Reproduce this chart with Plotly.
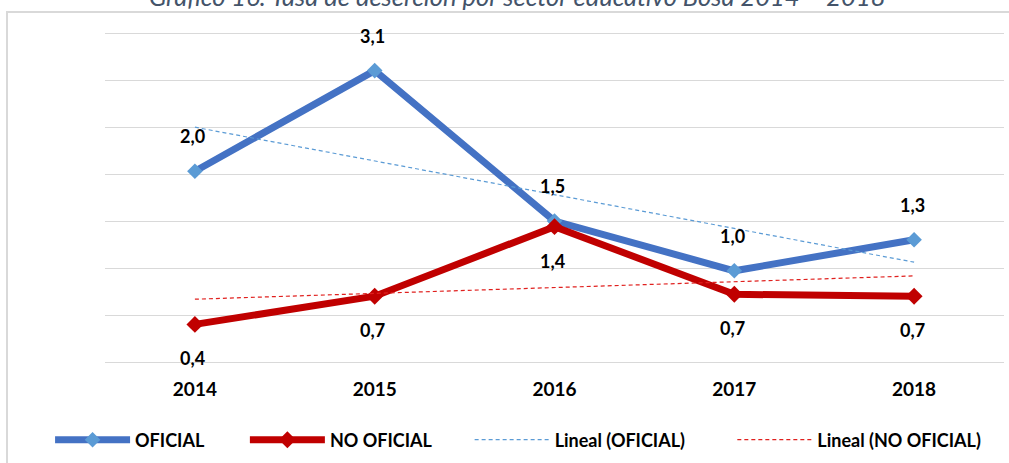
import numpy as np
import plotly.graph_objects as go

years = ["2014", "2015", "2016", "2017", "2018"]
oficial = [2.03, 3.10, 1.50, 0.97, 1.30]
no_oficial = [0.40, 0.70, 1.44, 0.72, 0.70]
oficial_labels = ["2,0", "3,1", "1,5", "1,0", "1,3"]
no_oficial_labels = ["0,4", "0,7", "1,4", "0,7", "0,7"]

title_text = "Gráfico 16. Tasa de deserción por sector educativo Bosa 2014 – 2018"

FONT = "Lato"

# linear trendlines (as in Excel "Lineal")
idx = np.arange(len(years))
c_of = np.polyfit(idx, oficial, 1)
c_no = np.polyfit(idx, no_oficial, 1)
trend_of = np.polyval(c_of, idx)
trend_no = np.polyval(c_no, idx)

fig = go.Figure()
fig.add_trace(go.Scatter(
    x=years, y=oficial, name="OFICIAL", mode="lines+markers", legend="legend",
    line=dict(color="#4472C4", width=7),
    marker=dict(symbol="diamond", size=12, color="#5B9BD5"),
))
fig.add_trace(go.Scatter(
    x=years, y=no_oficial, name="NO OFICIAL", mode="lines+markers", legend="legend2",
    line=dict(color="#C00000", width=7),
    marker=dict(symbol="diamond", size=13, color="#C00000"),
))
fig.add_trace(go.Scatter(
    x=years, y=trend_of, name="Lineal (OFICIAL)", mode="lines", legend="legend3",
    line=dict(color="#5B9BD5", width=1.2, dash="4px,3px"),
))
fig.add_trace(go.Scatter(
    x=years, y=trend_no, name="Lineal (NO OFICIAL)", mode="lines", legend="legend4",
    line=dict(color="#E0201E", width=1.2, dash="4px,3px"),
))

label_font = dict(family=FONT, size=18, color="black", weight="bold")
for i, (y, t) in enumerate(zip(oficial, oficial_labels)):
    fig.add_annotation(x=i, y=y, text=t, showarrow=False, yshift=35, xshift=-2, font=label_font)
for i, (y, t) in enumerate(zip(no_oficial, no_oficial_labels)):
    fig.add_annotation(x=i, y=y, text=t, showarrow=False, yshift=-34, xshift=-2, font=label_font)

fig.add_annotation(xref="paper", yref="paper", x=0.459, y=1.054, xanchor="center", yanchor="bottom",
                   text=title_text, showarrow=False,
                   font=dict(family=FONT, size=25.5, color="#44546A", style="italic"))

fig.add_shape(type="rect", xref="paper", yref="paper", x0=-0.109, x1=1.03, y0=-0.33, y1=1.057,
              line=dict(color="#D9D9D9", width=2), layer="below")

leg_common = dict(orientation="h", y=-0.2282, xanchor="left", yanchor="middle",
                  itemwidth=75, font=dict(family=FONT, size=18, color="black", weight="bold"),
                  bgcolor="rgba(0,0,0,0)")

fig.update_layout(
    width=1009, height=463,
    margin=dict(l=105, r=5, t=31, b=99),
    paper_bgcolor="white", plot_bgcolor="white",
    showlegend=True,
    legend=dict(x=-0.0611, **leg_common),
    legend2=dict(x=0.1556, **leg_common),
    legend3=dict(x=0.4056, **leg_common),
    legend4=dict(x=0.6978, **leg_common),
    xaxis=dict(type="category", range=[-0.5, 4.5], showgrid=False, zeroline=False, showline=False,
               ticks="", ticklabelstandoff=12,
               tickfont=dict(family=FONT, size=19, color="black", weight="bold")),
    yaxis=dict(range=[-0.02128, 3.52128], tick0=0, dtick=0.5, showticklabels=False, showgrid=True,
               gridcolor="#D9D9D9", gridwidth=1, zeroline=False, showline=False),
)

fig.write_html("out.html", config={"displayModeBar": False},
               post_script="document.body.style.margin='0';")
